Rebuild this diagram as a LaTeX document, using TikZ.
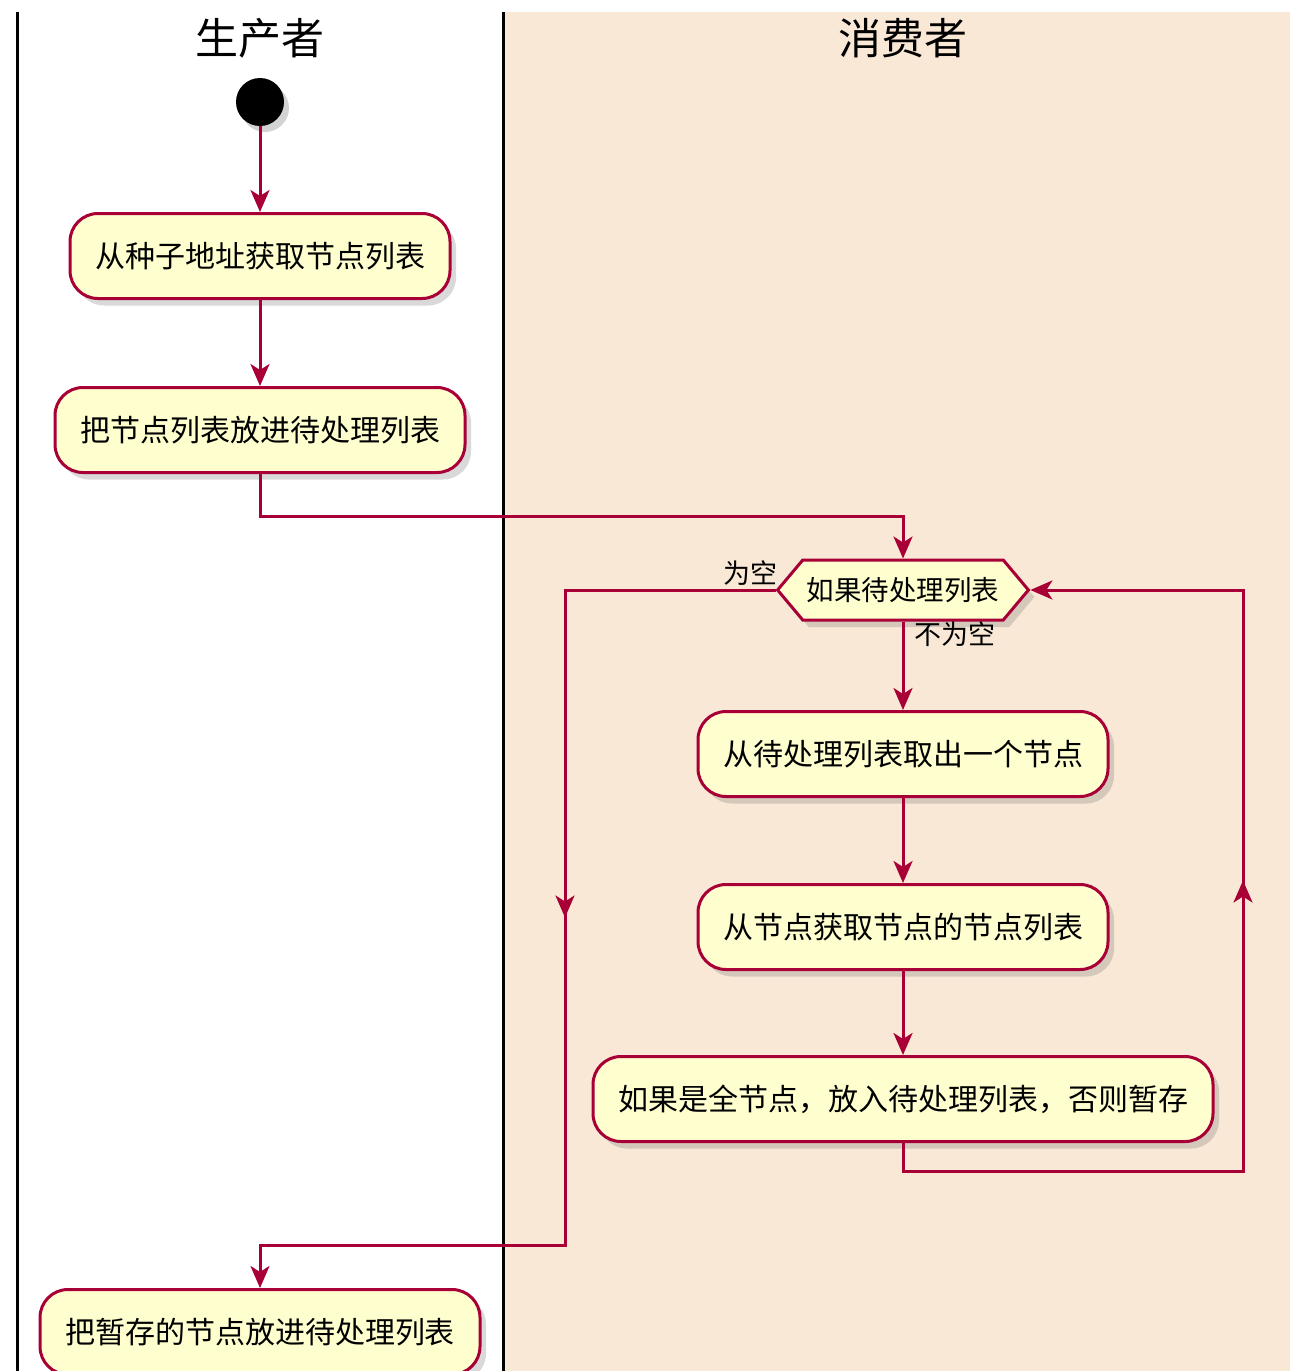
\documentclass[tikz,border=0pt]{standalone}
\usepackage{fontspec}
\setmainfont{Noto Sans CJK SC}
\usetikzlibrary{arrows.meta}
\usetikzlibrary{shadows}
\usetikzlibrary{shapes.symbols}
\usetikzlibrary{decorations.markings}

\definecolor{umlline}{HTML}{A80036}
\definecolor{umlbox}{HTML}{FEFECE}
\definecolor{lanebg}{HTML}{F9E8D5}

\tikzset{
  action/.style={draw=umlline, fill=umlbox, line width=3pt,
    rounded corners=28pt, minimum height=85pt, inner xsep=25pt,
    font=\fontsize{30}{35}\selectfont,
    drop shadow={shadow xshift=6pt, shadow yshift=-7pt, opacity=0.3}},
  decision/.style={draw=umlline, fill=umlbox, line width=3pt,
    shape=signal, signal to=west and east, signal pointer angle=100,
    minimum height=60pt, inner xsep=4pt, inner ysep=2pt,
    font=\fontsize{27.5}{32}\selectfont,
    drop shadow={shadow xshift=6pt, shadow yshift=-7pt, opacity=0.3}},
  startdot/.style={circle, fill=black, minimum size=48pt, inner sep=0pt,
    drop shadow={shadow xshift=5pt, shadow yshift=-6pt, opacity=0.35}},
  guard/.style={font=\fontsize{27}{32}\selectfont, inner sep=0pt},
  lanetitle/.style={font=\fontsize{43}{48}\selectfont, inner sep=0pt},
  lane/.style={line width=3pt, black},
  flow/.style={draw=umlline, line width=3pt,
    -{Stealth[length=22pt, width=19pt, inset=6pt]}},
  midtip/.style={color=umlline, line width=3pt, postaction={decorate},
    decoration={markings,
      mark=at position 0.5 with {\arrow{Stealth[length=22pt, width=19pt, inset=6pt]}}}}
}

\begin{document}
\begin{tikzpicture}[x=1pt,y=-1pt]
  \useasboundingbox (0,0) rectangle (1290,1371);
  \clip (0,0) rectangle (1290,1371);

  % swimlanes
  \fill[lanebg] (505,12) rectangle (1290,1371);
  \draw[lane] (17,12) -- (17,1371);
  \draw[lane] (503,12) -- (503,1371);
  \node[lanetitle] (producer) at (260,38) {生产者};
  \node[lanetitle] (consumer) at (903,38) {消费者};

  % producer side
  \node[startdot] (start) at (260,102) {};
  \node[action] (seed) at (260,256) {从种子地址获取节点列表};
  \node[action] (push) at (260,430) {把节点列表放进待处理列表};
  \node[action] (flush) at (260,1332) {把暂存的节点放进待处理列表};

  % consumer side
  \node[decision] (ifq) at (903,590) {如果待处理列表};
  \node[action] (take) at (903,754) {从待处理列表取出一个节点};
  \node[action] (fetch) at (903,927) {从节点获取节点的节点列表};
  \node[action] (store) at (903,1099) {如果是全节点，放入待处理列表，否则暂存};

  \node[guard] (emptylbl) at (750,573) {为空};
  \node[guard] (fulllbl) at (955,634) {不为空};

  \coordinate (handoff) at (903,516);
  \coordinate (emptytop) at (565,590);
  \coordinate (emptybot) at (565,1245);
  \coordinate (loopbot) at (1243,1171);
  \coordinate (looptop) at (1243,590);

  % connectors
  \draw[flow] (start) -- (seed);
  \draw[flow] (seed) -- (push);
  \draw[flow] (push.south) |- (handoff) -- (ifq.north);
  \draw[flow] (ifq.south) -- (take);
  \draw[flow] (take) -- (fetch);
  \draw[flow] (fetch) -- (store);
  \draw[flow] (store.south) |- (loopbot) -- (looptop) -- (ifq.east);
  \path[midtip] (loopbot) -- (looptop);
  \draw[flow] (ifq.west) -- (emptytop) -- (emptybot) -| (flush.north);
  \path[midtip] (emptytop) -- (emptybot);
\end{tikzpicture}
\end{document}
